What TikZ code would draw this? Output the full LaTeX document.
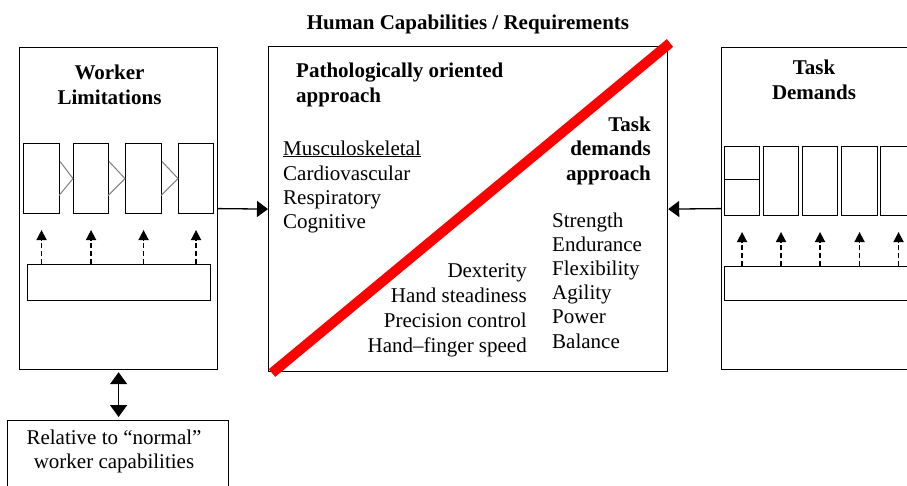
\documentclass[tikz,border=0pt]{standalone}
\usepackage{fontspec}
\setmainfont{Liberation Serif}
\usetikzlibrary{arrows.meta}
\tikzset{
  box/.style={draw, line width=1.2pt, inner sep=0pt, anchor=north west},
  sbox/.style={draw, line width=1.1pt, inner sep=0pt, anchor=north west},
  txt/.style={inner sep=0pt, font=\fontsize{21}{25}\selectfont},
  btxt/.style={inner sep=0pt, font=\fontsize{21}{25}\selectfont\bfseries},
  arr/.style={line width=1.3pt, -{Triangle[width=16pt,length=11pt]}},
  darr/.style={line width=1.6pt, dash pattern=on 5pt off 3pt, -{Triangle[width=10pt,length=10pt]}},
  dbl/.style={line width=1.6pt, {Triangle[width=17pt,length=12pt]}-{Triangle[width=17pt,length=12pt]}},
  tri/.style={draw=gray, line width=1pt},
}
\begin{document}
\begin{tikzpicture}[x=1pt,y=-1pt]
\useasboundingbox[fill=white] (0,0) rectangle (907,485);

% title
\node[btxt, anchor=base] (title) at (468,29) {Human Capabilities / Requirements};

% ---------- left box ----------
\node[box, minimum width=198pt, minimum height=322pt] (lbox) at (19,47) {};
\node[btxt, anchor=base] (lt1) at (109.5,79) {Worker};
\node[btxt, anchor=base] (lt2) at (109.5,104) {Limitations};
\node[sbox, minimum width=36pt, minimum height=70pt] (lb1) at (23,143) {};
\node[sbox, minimum width=35pt, minimum height=70pt] (lb2) at (73,143) {};
\node[sbox, minimum width=36pt, minimum height=70pt] (lb3) at (125,143) {};
\node[sbox, minimum width=35pt, minimum height=70pt] (lb4) at (178,143) {};
\draw[tri] (lb1.east) ++(0,-17) -- (lb2.west) -- ++(-14,17);
\draw[tri] (lb2.east) ++(0,-17) -- (lb3.west) -- ++(-17,17);
\draw[tri] (lb3.east) ++(0,-17) -- (lb4.west) -- ++(-17,17);
\node[sbox, minimum width=183pt, minimum height=36pt] (lbar) at (27,264) {};
\foreach \b in {lb1,lb2,lb3,lb4}{
  \draw[darr] (lbar.north -| \b.south) -- ++(0,-34);
}

% ---------- bottom-left box ----------
\node[box, minimum width=221pt, minimum height=90pt] (rel) at (7,420) {};
\node[txt, anchor=base] (rl1) at (114,444) {Relative to “normal”};
\node[txt, anchor=base] (rl2) at (114,468) {worker capabilities};
\draw[dbl, shorten <=2pt, shorten >=3pt] (lbox.south) -- (rel.north -| lbox.south);

% ---------- right box ----------
\node[box, minimum width=300pt, minimum height=322pt] (rbox) at (721,47) {};
\node[btxt, anchor=base] (rt1) at (814,74) {Task};
\node[btxt, anchor=base] (rt2) at (814,99) {Demands};
\node[sbox, minimum width=35pt, minimum height=69pt] (rb1) at (724,146) {};
\draw[line width=1.1pt] (rb1.west) ++(0,-2) -- ++(35,0);
\node[sbox, minimum width=35pt, minimum height=69pt] (rb2) at (763,146) {};
\node[sbox, minimum width=35pt, minimum height=69pt] (rb3) at (802,146) {};
\node[sbox, minimum width=36pt, minimum height=69pt] (rb4) at (841,146) {};
\node[sbox, minimum width=36pt, minimum height=69pt] (rb5) at (880,146) {};
\node[sbox, minimum width=250pt, minimum height=34pt] (rbar) at (724,266) {};
\foreach \b in {rb1,rb2,rb3,rb4,rb5}{
  \draw[darr] (rbar.north -| \b.south) -- ++(0,-34);
}

% ---------- center box ----------
\node[box, minimum width=399pt, minimum height=325pt] (cbox) at (268,46) {};
\draw[red, line width=10pt] (272,373) -- (670,43);

\node[btxt, anchor=base west] (p1) at (296,77) {Pathologically oriented};
\node[btxt, anchor=base west] (p2) at (296,102) {approach};

\node[txt, anchor=base west] (m1) at (283,155) {\underline{Musculoskeletal}};
\node[txt, anchor=base west] (m2) at (283,180) {Cardiovascular};
\node[txt, anchor=base west] (m3) at (283,204) {Respiratory};
\node[txt, anchor=base west] (m4) at (283,228) {Cognitive};

\node[btxt, anchor=base east] (t1) at (651,131) {Task};
\node[btxt, anchor=base east] (t2) at (651,155) {demands};
\node[btxt, anchor=base east] (t3) at (651,180) {approach};

\node[txt, anchor=base west] (s1) at (552,227) {Strength};
\node[txt, anchor=base west] (s2) at (552,251) {Endurance};
\node[txt, anchor=base west] (s3) at (552,275) {Flexibility};
\node[txt, anchor=base west] (s4) at (552,299) {Agility};
\node[txt, anchor=base west] (s5) at (552,323) {Power};
\node[txt, anchor=base west] (s6) at (552,348) {Balance};

\node[txt, anchor=base east] (d1) at (527,277) {Dexterity};
\node[txt, anchor=base east] (d2) at (527,302) {Hand steadiness};
\node[txt, anchor=base east] (d3) at (527,327) {Precision control};
\node[txt, anchor=base east] (d4) at (527,352) {Hand–finger speed};

% connectors
\draw[arr] (lbox.east) -- (cbox.west);
\draw[arr] (rbox.west) -- (cbox.east);
\end{tikzpicture}
\end{document}
